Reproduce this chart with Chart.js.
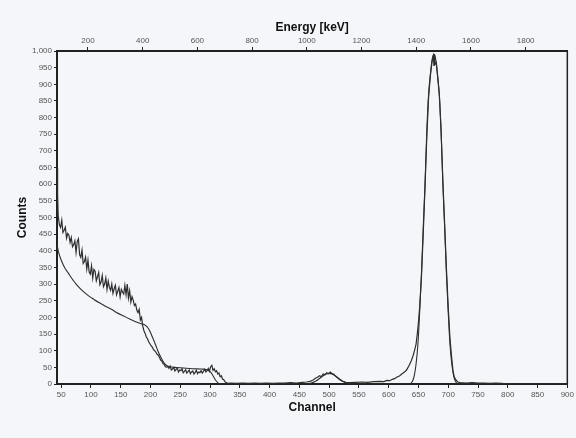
<!DOCTYPE html>
<html><head><meta charset="utf-8">
<script src="https://cdn.jsdelivr.net/npm/chart.js@4/dist/chart.umd.min.js"></script>
<style>html,body{margin:0;padding:0;background:#f4f6f9;}#wrap{width:576px;height:438px;}</style>
</head><body><div id="wrap"><canvas id="c" width="576" height="438"></canvas></div>
<script>
// Measured spectrum (channel, counts)
const measChannels = [43,44,45,47,49,51,53,55,57,59,61,63,65,67,69,71,73,75,77,79,81,83,85,87,89,91,93,95,97,99,101,103,105,107,109,111,113,115,117,119,121,123,125,127,129,131,133,135,137,139,141,143,145,147,149,151,153,155,157,159,161,163,165,167,169,171,173,175,177,179,181,183,185,187,189,191,193,195,197,199,201,203,205,207,209,211,213,215,217,219,221,223,225,227,229,231,233,235,237,239,241,243,245,247,249,251,253,255,257,259,261,263,265,267,269,271,273,275,277,279,281,283,285,287,289,291,293,295,297,299,301,303,305,307,309,311,313,315,317,319,321,323,325,327,330,335,345,355,365,375,385,395,405,415,425,435,445,455,462,468,473,477,481,484,487,490,493,496,499,502,505,508,511,514,518,523,528,535,545,555,565,575,585,592,597,602,606,610,614,618,622,626,630,634,638,641,644,646,648,650,652,655,658,661,664,667,670,673,675,676,677,678,680,682,685,688,691,694,697,700,703,706,708,710,713,716,720,730,740,750,760,770,780,790,800];
const measCounts = [650,570,505,478,470,492,455,462,471,438,452,447,425,440,412,418,430,395,428,436,388,380,402,362,368,381,345,372,336,330,355,318,344,339,310,322,335,298,306,326,292,300,318,284,309,290,281,300,272,286,296,268,279,290,262,284,276,270,296,268,300,258,280,246,262,252,236,240,222,214,224,192,200,174,160,152,141,136,127,121,115,111,103,100,96,89,87,80,72,69,61,59,52,51,52,47,54,42,45,50,39,44,47,36,42,40,46,34,38,43,33,37,42,31,36,39,30,35,41,31,36,34,40,33,38,44,36,40,47,38,52,56,41,46,37,40,30,33,22,25,15,13,7,4,2,3,2,3,2,3,2,3,2,3,3,4,3,5,6,8,12,17,21,25,22,30,28,34,31,36,31,29,23,19,13,8,5,4,5,6,5,7,8,7,11,10,14,16,21,24,30,35,42,55,70,85,105,120,150,185,230,320,450,590,740,860,925,970,985,955,990,960,965,925,870,760,610,480,345,230,135,75,40,22,12,6,4,3,4,3,3,2,3,2,0];
// Fitted / simulated response (channel, counts)
const fitChannels = [43,45,48,51,54,58,62,66,70,75,80,87,95,105,115,125,135,143,155,165,175,184,190,194,198,203,208,213,218,222,226,230,240,255,270,285,295,300,304,308,312,315,318,460,470,478,485,490,495,500,505,510,515,522,530,540,634,637,640,643,646,649,652,655,658,661,664,667,670,673,676,679,682,685,688,691,694,697,700,703,706,709,712,715,718,900];
const fitCounts = [420,400,382,368,356,343,333,322,312,300,290,278,266,254,243,233,224,215,204,195,187,181,178,172,162,142,120,97,78,65,57,53,50,48,46,45,43,37,28,15,6,1,0,0,3,9,18,25,30,32,30,25,18,9,3,0,0,2,8,25,60,117,215,330,470,600,760,870,930,975,990,975,930,870,760,600,470,330,215,117,60,25,8,2,0,0];
// Axis ranges and ticks
const channelRange = [43, 900];
const channelStep = 50;
const energyRange = [86.8, 1952.4];   // keV at the channel-axis ends
const energyStep = 200;
const countsRange = [0, 1000];
const countsStep = 50;

const tickFont = {family:'"Liberation Sans", Arial, sans-serif', size:8};
const titleFont = {family:'"Liberation Sans", Arial, sans-serif', size:12, weight:'bold'};
const axisColor = '#222';
const lineColor = '#2e2e2e';

const bgPlugin = {
  id:'bg',
  beforeDraw(chart){
    const ctx = chart.ctx; ctx.save();
    ctx.fillStyle = '#f4f6f9'; ctx.fillRect(0,0,chart.width,chart.height);
    ctx.restore();
  },
  afterDraw(chart){
    const a = chart.chartArea, ctx = chart.ctx; ctx.save();
    ctx.strokeStyle = axisColor; ctx.lineWidth = 1.5;
    ctx.beginPath(); ctx.moveTo(a.right, a.top); ctx.lineTo(a.right, a.bottom); ctx.stroke();
    ctx.restore();
  }
};

const toXY = (xs, ys) => xs.map((x,i)=>({x:x, y:ys[i]}));

new Chart(document.getElementById('c'), {
  type:'line',
  data:{datasets:[
    {label:'Measured', data:toXY(measChannels, measCounts), borderColor:lineColor, borderWidth:1.2, pointRadius:0, tension:0, xAxisID:'x', yAxisID:'y'},
    {label:'Fit', data:toXY(fitChannels, fitCounts), borderColor:lineColor, borderWidth:1.1, pointRadius:0, cubicInterpolationMode:'monotone', xAxisID:'x', yAxisID:'y'}
  ]},
  options:{
    responsive:false, devicePixelRatio:1, animation:false, locale:'en-US',
    layout:{padding:{left:0,right:5,top:0,bottom:0}},
    plugins:{legend:{display:false}, tooltip:{enabled:false}},
    scales:{
      x:{type:'linear', position:'bottom', min:channelRange[0], max:channelRange[1],
        ticks:{stepSize:channelStep, includeBounds:false, autoSkip:false, maxRotation:0, font:tickFont, color:'#555', padding:2, callback:v=>String(v)},
        grid:{drawOnChartArea:false, drawTicks:true, tickLength:4, color:axisColor, lineWidth:1},
        border:{display:true, color:axisColor, width:2},
        title:{display:true, text:'Channel', font:titleFont, color:'#111', padding:{top:0,bottom:23}},
        afterFit(s){ s.height = 54; }
      },
      x2:{type:'linear', position:'top', min:energyRange[0], max:energyRange[1],
        ticks:{stepSize:energyStep, includeBounds:false, autoSkip:false, maxRotation:0, font:tickFont, color:'#555', padding:1, callback:v=>String(v)},
        grid:{drawOnChartArea:false, drawTicks:true, tickLength:4, color:axisColor, lineWidth:1},
        border:{display:true, color:axisColor, width:2},
        title:{display:true, text:'Energy [keV]', font:titleFont, color:'#111', padding:{top:20,bottom:0}},
        afterFit(s){ s.height = 51; }
      },
      y:{type:'linear', position:'left', min:countsRange[0], max:countsRange[1],
        ticks:{stepSize:countsStep, includeBounds:false, autoSkip:false, font:tickFont, color:'#555', padding:2},
        grid:{drawOnChartArea:false, drawTicks:true, tickLength:3, color:axisColor, lineWidth:1},
        border:{display:true, color:axisColor, width:2},
        title:{display:true, text:'Counts', font:titleFont, color:'#111', padding:{top:15,bottom:0}},
        afterFit(s){ s.width = 57; }
      }
    }
  },
  plugins:[bgPlugin]
});
</script></body></html>
